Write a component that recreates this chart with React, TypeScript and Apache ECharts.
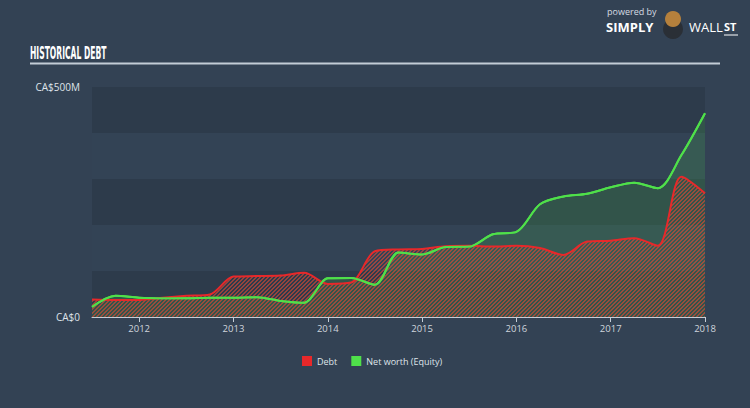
import React, { useEffect, useRef } from "react";
import * as echarts from "echarts";

const years = [
  2011.5, 2011.75, 2012, 2012.25, 2012.5, 2012.75, 2013, 2013.25, 2013.5,
  2013.75, 2014, 2014.25, 2014.5, 2014.75, 2015, 2015.25, 2015.5, 2015.75,
  2016, 2016.25, 2016.5, 2016.75, 2017, 2017.25, 2017.5, 2017.75, 2018,
];
const debt = [
  38, 37, 37, 42, 46, 49, 88, 89, 90, 96, 72, 75, 143, 147, 148, 154, 155,
  153, 155, 150, 135, 164, 166, 171, 155, 305, 269,
];
const equity = [
  22, 46, 42, 41, 41, 42, 42, 43, 35, 31, 84, 85, 70, 140, 136, 152, 153, 180,
  185, 245, 262, 268, 282, 292, 280, 352, 443,
];
const yearTicks = [2012, 2013, 2014, 2015, 2016, 2017, 2018];
const seriesNames = ["Debt", "Net worth (Equity)"];

const BG = "#334254";
const RED = "#e8282a";
const GREEN = "#4fe04a";
const FONT = "'Open Sans', 'Noto Sans', sans-serif";

function makeHatch(): HTMLCanvasElement {
  const c = document.createElement("canvas");
  c.width = 4;
  c.height = 4;
  const ctx = c.getContext("2d")!;
  const img = ctx.createImageData(4, 4);
  for (let y = 0; y < 4; y++) {
    for (let x = 0; x < 4; x++) {
      const i = (y * 4 + x) * 4;
      if ((x + y) % 4 < 2) {
        img.data[i] = 222;
        img.data[i + 1] = 72;
        img.data[i + 2] = 52;
        img.data[i + 3] = 215;
      } else {
        img.data[i + 3] = 0;
      }
    }
  }
  ctx.putImageData(img, 0, 0);
  return c;
}

export default function App() {
  const ref = useRef<HTMLDivElement>(null);
  useEffect(() => {
    if (!ref.current) return;
    const chart = echarts.init(ref.current, undefined, { renderer: "svg" });
    const hatch = makeHatch();
    const debtData = years.map((x, i) => [x, debt[i]]);
    const eqData = years.map((x, i) => [x, equity[i]]);
    chart.setOption({
      animation: false,
      backgroundColor: BG,
      grid: { left: 92, right: 45, top: 87, bottom: 91, containLabel: false },
      legend: {
        left: 297,
        top: 351,
        icon: "rect",
        itemWidth: 10,
        itemHeight: 10,
        itemGap: 14,
        data: seriesNames,
        textStyle: { color: "#dfe4ea", fontSize: 9, fontFamily: FONT },
      },
      xAxis: {
        type: "value",
        min: 2011.5,
        max: 2018,
        splitLine: { show: false },
        axisLine: { show: true, lineStyle: { color: "#c5cdd6", width: 1 } },
        axisTick: {
          show: true,
          customValues: yearTicks,
          length: 5,
          lineStyle: { color: "#c5cdd6" },
        },
        axisLabel: {
          customValues: yearTicks,
          color: "#cfd5dc",
          fontSize: 9.5,
          fontFamily: FONT,
          margin: 6,
          formatter: (v: number) => String(Math.round(v)),
        },
      },
      yAxis: {
        type: "value",
        min: 0,
        max: 500,
        interval: 100,
        axisLine: { show: false },
        axisTick: { show: false },
        splitLine: { show: false },
        splitArea: {
          show: true,
          areaStyle: { color: ["#2d3b4b", "#334355"] },
        },
        axisLabel: {
          color: "#dfe4ea",
          fontSize: 10,
          fontFamily: FONT,
          margin: 12,
          formatter: (v: number) =>
            v === 0 ? "CA$0" : v === 500 ? "CA$500M" : "",
        },
      },
      series: [
        {
          name: seriesNames[1],
          type: "line",
          data: eqData,
          smooth: 0.3,
          showSymbol: false,
          symbol: "none",
          z: 2,
          itemStyle: { color: GREEN },
          lineStyle: { color: GREEN, width: 2 },
          areaStyle: { color: "rgba(76,224,74,0.22)", origin: "start" },
        },
        {
          name: seriesNames[0],
          type: "line",
          data: debtData,
          smooth: 0.3,
          showSymbol: false,
          symbol: "none",
          z: 3,
          itemStyle: { color: RED },
          lineStyle: { color: RED, width: 2 },
          areaStyle: {
            color: { image: hatch, repeat: "repeat" },
            origin: "start",
          },
        },
        {
          name: seriesNames[1] + " line",
          type: "line",
          data: eqData,
          smooth: 0.3,
          showSymbol: false,
          symbol: "none",
          z: 4,
          silent: true,
          lineStyle: { color: GREEN, width: 2 },
          itemStyle: { color: GREEN },
        },
      ],
      graphic: [
        {
          type: "text",
          left: 30,
          top: 44,
          scaleX: 0.47,
          style: {
            text: "HISTORICAL DEBT",
            fill: "#ffffff",
            font: "bold 18px 'Liberation Sans Narrow', 'DejaVu Sans Condensed', sans-serif",
          },
        },
        {
          type: "line",
          shape: { x1: 30, y1: 63.5, x2: 720, y2: 63.5 },
          style: { stroke: "#c3ccd6", lineWidth: 2 },
        },
        {
          type: "text",
          left: 607,
          top: 7,
          style: {
            text: "powered by",
            fill: "#d5dbe2",
            font: "9px 'Open Sans', sans-serif",
          },
        },
        {
          type: "text",
          left: 606,
          top: 20,
          style: {
            text: "SIMPLY",
            fill: "#ffffff",
            font: "bold 13px 'Open Sans', sans-serif",
          },
        },
        {
          type: "circle",
          shape: { cx: 673, cy: 29, r: 10 },
          style: { fill: "#2a2f36" },
        },
        {
          type: "circle",
          shape: { cx: 673, cy: 19, r: 8 },
          style: { fill: "#b5803c" },
        },
        {
          type: "text",
          left: 689,
          top: 20,
          style: {
            text: "WALL",
            fill: "#ffffff",
            font: "13px 'Open Sans', sans-serif",
          },
        },
        {
          type: "text",
          left: 724,
          top: 21,
          style: {
            text: "ST",
            fill: "#ffffff",
            font: "bold 11px 'Open Sans', sans-serif",
          },
        },
        {
          type: "line",
          shape: { x1: 724, y1: 35, x2: 738, y2: 35 },
          style: { stroke: "#ffffff", lineWidth: 1 },
        },
      ],
    });
    return () => chart.dispose();
  }, []);
  return (
    <div
      ref={ref}
      style={{
        width: 750,
        height: 408,
        position: "absolute",
        left: 0,
        top: 0,
      }}
    />
  );
}
